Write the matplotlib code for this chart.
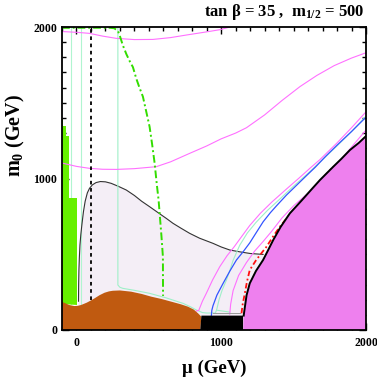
import matplotlib
matplotlib.use("Agg")
import matplotlib.pyplot as plt
from matplotlib.ticker import MultipleLocator

plt.rcParams["font.family"] = ["Liberation Serif", "DejaVu Serif"]
plt.rcParams["font.weight"] = "bold"
plt.rcParams["mathtext.fontset"] = "custom"
plt.rcParams["mathtext.rm"] = "Liberation Serif:bold"
plt.rcParams["mathtext.it"] = "Liberation Serif:bold"
plt.rcParams["mathtext.bf"] = "Liberation Serif:bold"

# regions (mu, m0 in GeV)
brown_mu = [-100, -100, -80, -50, -14, 10, 32, 70, 100, 125, 160, 194, 225, 251, 300, 378,
            450, 517, 590, 655, 720, 770, 810, 840, 863, 855]
brown_m0 = [0, 185, 178, 165, 158, 160, 165, 180, 195, 209, 230, 246, 255, 259, 261, 253,
            238, 220, 204, 187, 170, 154, 135, 110, 88, 0]

black_mu = [855, 863, 1151, 1151]
black_m0 = [0, 95, 95, 0]

green_mu = [-100, -100, -95, -95, -72, -72, -52, -52, 6, 6]
green_m0 = [170, 1390, 1390, 1345, 1345, 1280, 1280, 870, 870, 165]

lav_mu = [14, 15, 17, 20, 24, 30, 38, 48, 60, 75, 90, 110, 135, 165, 200, 240, 290, 344,
          400, 450, 505, 560, 620, 667, 720, 782, 850, 943, 1000, 1059, 1128, 1200, 1289]
lav_m0 = [190, 300, 400, 480, 560, 630, 700, 780, 850, 905, 935, 958, 973, 980, 978, 968,
          948, 924, 888, 850, 814, 777, 737, 704, 673, 638, 606, 572, 548, 528, 516, 505, 499]

edge_mu = [1151, 1155, 1163, 1175, 1197, 1240, 1289, 1320, 1359, 1410, 1474, 1560, 1630,
           1682, 1774, 1830, 1889, 1950, 2000]
edge_m0 = [0, 95, 150, 230, 308, 390, 462, 520, 594, 680, 770, 860, 935, 990, 1078, 1130,
           1188, 1235, 1280]

# contour lines
mag_top_mu = [-100, 0, 90, 180, 275, 400, 528, 650, 759, 880, 990, 1060]
mag_top_m0 = [1970, 1965, 1958, 1940, 1925, 1917, 1918, 1930, 1947, 1965, 1982, 2000]

mag_mid_mu = [-100, 0, 90, 180, 275, 400, 551, 650, 782, 900, 1000, 1100, 1174, 1300, 1420,
              1543, 1660, 1780, 1900, 2000]
mag_mid_m0 = [1102, 1080, 1067, 1061, 1060, 1065, 1078, 1110, 1166, 1215, 1262, 1300, 1335,
              1420, 1515, 1606, 1680, 1745, 1795, 1830]

mag1_mu = [828, 845, 870, 897, 940, 990, 1040, 1090, 1128, 1197, 1270, 1350, 1450, 1540,
           1612, 1682, 1800, 1900, 2000]
mag1_m0 = [125, 130, 190, 242, 330, 418, 490, 550, 600, 690, 770, 845, 930, 1005, 1067, 1125,
           1235, 1335, 1440]

mag2_mu = [1059, 1065, 1082, 1120, 1174, 1230, 1290, 1347, 1420, 1500, 1590, 1682, 1774,
           1850, 1920, 2000]
mag2_m0 = [105, 170, 260, 360, 445, 520, 585, 650, 740, 820, 895, 975, 1067, 1150, 1230, 1320]

blue_mu = [932, 935, 943, 970, 1013, 1060, 1105, 1150, 1197, 1240, 1290, 1340, 1382, 1450,
           1520, 1590, 1650, 1720, 1800, 1900, 2000]
blue_m0 = [95, 130, 160, 230, 308, 390, 462, 515, 575, 640, 715, 775, 820, 890, 955, 1020,
           1075, 1145, 1220, 1310, 1405]

aqua_mu = [286, 286, 300, 320, 400, 505, 620, 736, 790, 828, 870, 900, 960, 970, 985, 1005,
           1036, 1060, 1082, 1128, 1180, 1240, 1320, 1400, 1500, 1600, 1700, 1800, 1900, 2000]
aqua_m0 = [2000, 297, 282, 275, 262, 242, 212, 176, 152, 132, 115, 112, 112, 140, 200, 260,
           330, 395, 460, 560, 640, 710, 790, 860, 950, 1035, 1125, 1215, 1310, 1412]
aqua_hook_mu = [975, 1059]
aqua_hook_m0 = [130, 118]
aqua_v1 = -37
aqua_v2 = 28

red_mu = [1140, 1148, 1163, 1178, 1197, 1240, 1280, 1313, 1360, 1405, 1480, 1530, 1589, 1680, 1774]
red_m0 = [110, 170, 242, 320, 396, 460, 510, 550, 620, 682, 770, 820, 880, 980, 1078]

dash_mu = 100
dash_m0 = [198, 2000]

gdd_mu = [-100, 228, 260, 286, 300, 320, 345, 370, 390, 413, 435, 459, 480, 505, 522, 540,
          555, 567, 577, 587, 597, 598]
gdd_m0 = [1995, 1995, 1992, 1975, 1940, 1880, 1820, 1770, 1735, 1660, 1600, 1540, 1450, 1342,
          1230, 1100, 960, 860, 740, 620, 484, 225]

gray_mu = [940, 1130]
gray_m0 = [115, 115]

fig = plt.figure(figsize=(3.77, 3.82), dpi=100)
ax = fig.add_axes([62 / 377, 52 / 382, 304 / 377, 303 / 382])

ax.fill(lav_mu + [1289, 14], lav_m0 + [0, 0], color="#f4eef6", lw=0, zorder=1)
ax.plot(lav_mu, lav_m0, color="#333333", lw=0.8, zorder=3)

ax.plot([aqua_v1, aqua_v1], [170, 2000], color="#b0f5d0", lw=0.8, zorder=2)
ax.plot([aqua_v2, aqua_v2], [170, 2000], color="#b0f5d0", lw=0.8, zorder=2)
ax.plot(aqua_mu, aqua_m0, color="#9ff0c8", lw=0.8, zorder=3)
ax.plot(aqua_hook_mu, aqua_hook_m0, color="#9ff0c8", lw=0.8, zorder=3)

ax.fill(green_mu, green_m0, color="#66f000", lw=0, zorder=2.5)
ax.fill(brown_mu, brown_m0, color="#c05a10", lw=0, zorder=4)
ax.fill(black_mu, black_m0, color="black", lw=0, zorder=4)
ax.fill(edge_mu + [2000, 2000], edge_m0 + [0, 0], color="#ee80ee", lw=0, zorder=4)
ax.plot(edge_mu[1:], edge_m0[1:], color="black", lw=1.4, zorder=5)

ax.plot(mag_top_mu, mag_top_m0, color="#ff70ff", lw=0.8, zorder=3)
ax.plot(mag_mid_mu, mag_mid_m0, color="#ff70ff", lw=0.8, zorder=3)
ax.plot(mag1_mu, mag1_m0, color="#ff70ff", lw=0.8, zorder=3)
ax.plot(mag2_mu, mag2_m0, color="#ff70ff", lw=0.8, zorder=3)
ax.plot(blue_mu, blue_m0, color="#3355ff", lw=0.9, zorder=3)
ax.plot(red_mu, red_m0, color="#ff1010", lw=1.3, ls=(0, (3, 1.5, 1, 1.5)), zorder=3)
ax.plot(gray_mu, gray_m0, color="#999999", lw=0.7, zorder=3)
ax.plot([dash_mu, dash_mu], dash_m0, color="black", lw=1.3, ls=(0, (2, 2)), zorder=3)
ax.plot(gdd_mu, gdd_m0, color="#33dd00", lw=1.4, ls=(0, (4, 1.5, 1, 1.5)), zorder=3)

ax.set_xlim(-100, 2000)
ax.set_ylim(0, 2000)
ax.set_xticks([0, 1000, 2000])
ax.set_yticks([0, 1000, 2000])
ax.xaxis.set_minor_locator(MultipleLocator(100))
ax.yaxis.set_minor_locator(MultipleLocator(100))
ax.tick_params(which="both", direction="in", top=True, right=True, labelsize=8.5, width=1)
ax.tick_params(which="major", length=5)
ax.tick_params(which="minor", length=3)
ax.tick_params(axis="x", pad=5)
for s in ax.spines.values():
    s.set_linewidth(1.3)
    s.set_zorder(6)

fig.text(0.04, 1 - 135 / 382, "m$_0$ (GeV)", rotation=90, ha="center", va="center",
         fontsize=14.5, fontweight="bold")
ax.set_xlabel("μ (GeV)", fontsize=13.5, fontweight="bold", labelpad=8)
fig.text(364 / 377, 1 - 12 / 382, "tan β = 35 ,  m$_{1/2}$ = 500", ha="right", va="center",
         fontsize=12, fontweight="bold")

plt.savefig("out.png", dpi=100)
plt.close()
